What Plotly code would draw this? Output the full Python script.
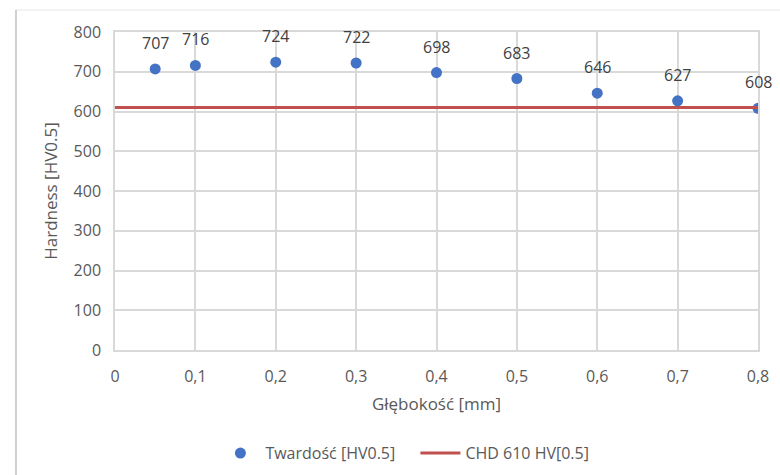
import plotly.graph_objects as go

depth = [0.05, 0.1, 0.2, 0.3, 0.4, 0.5, 0.6, 0.7, 0.8]
hardness = [707, 716, 724, 722, 698, 683, 646, 627, 608]
chd_x = [0, 0.8]
chd_y = [610, 610]
x_ticks = [0, 0.1, 0.2, 0.3, 0.4, 0.5, 0.6, 0.7, 0.8]
x_tick_labels = ["0", "0,1", "0,2", "0,3", "0,4", "0,5", "0,6", "0,7", "0,8"]
y_ticks = [0, 100, 200, 300, 400, 500, 600, 700, 800]

FONT = "Open Sans"
TXT = "#595959"
GRID = "#d9d9d9"

fig = go.Figure()
fig.add_trace(go.Scatter(
    x=depth, y=hardness, mode="markers", name="Twardość [HV0.5]",
    marker=dict(color="#4472C4", size=11),
))
fig.add_trace(go.Scatter(
    x=chd_x, y=chd_y, mode="lines", name="CHD 610 HV[0.5]",
    line=dict(color="#C0504D", width=3),
))

for xv, yv in zip(depth, hardness):
    fig.add_annotation(x=xv, y=yv, text=str(yv), showarrow=False, yshift=26,
                       font=dict(family=FONT, size=16, color="#404040"))

# outer chart frame
fig.add_shape(type="line", xref="paper", yref="paper", x0=-0.154, x1=1.2, y0=1.069, y1=1.069,
              line=dict(color="#e6e6e6", width=1))
fig.add_shape(type="line", xref="paper", yref="paper", x0=-0.154, x1=-0.154, y0=1.069, y1=-0.45,
              line=dict(color="#d0d0d0", width=2))

fig.update_layout(
    width=780, height=475,
    margin=dict(l=115, r=22, t=32, b=125),
    paper_bgcolor="white", plot_bgcolor="white",
    font=dict(family=FONT, size=17, color=TXT),
    showlegend=True,
    legend=dict(orientation="h", x=0.4672, xanchor="center",
                yref="container", y=0.046, yanchor="middle",
                font=dict(family=FONT, size=16, color=TXT), itemwidth=40,
                entrywidth=145, entrywidthmode="pixels"),
    xaxis=dict(range=[0, 0.8], tickvals=x_ticks, ticktext=x_tick_labels,
               showgrid=True, gridcolor=GRID, gridwidth=1.5,
               showline=True, linecolor=GRID, linewidth=1.5, mirror=True,
               zeroline=False, ticks="", ticklabelstandoff=11, automargin=False,
               tickfont=dict(size=16),
               title=dict(text="Głębokość [mm]", standoff=12, font=dict(size=17, color=TXT))),
    yaxis=dict(range=[0, 800], tickvals=y_ticks,
               showgrid=True, gridcolor=GRID, gridwidth=1.5,
               showline=True, linecolor=GRID, linewidth=1.5, mirror=True,
               zeroline=False, ticks="", ticklabelstandoff=9, automargin=False,
               tickfont=dict(size=16),
               title=dict(text="Hardness [HV0.5]", standoff=12, font=dict(size=17, color=TXT))),
)

fig.write_html("out.html")
